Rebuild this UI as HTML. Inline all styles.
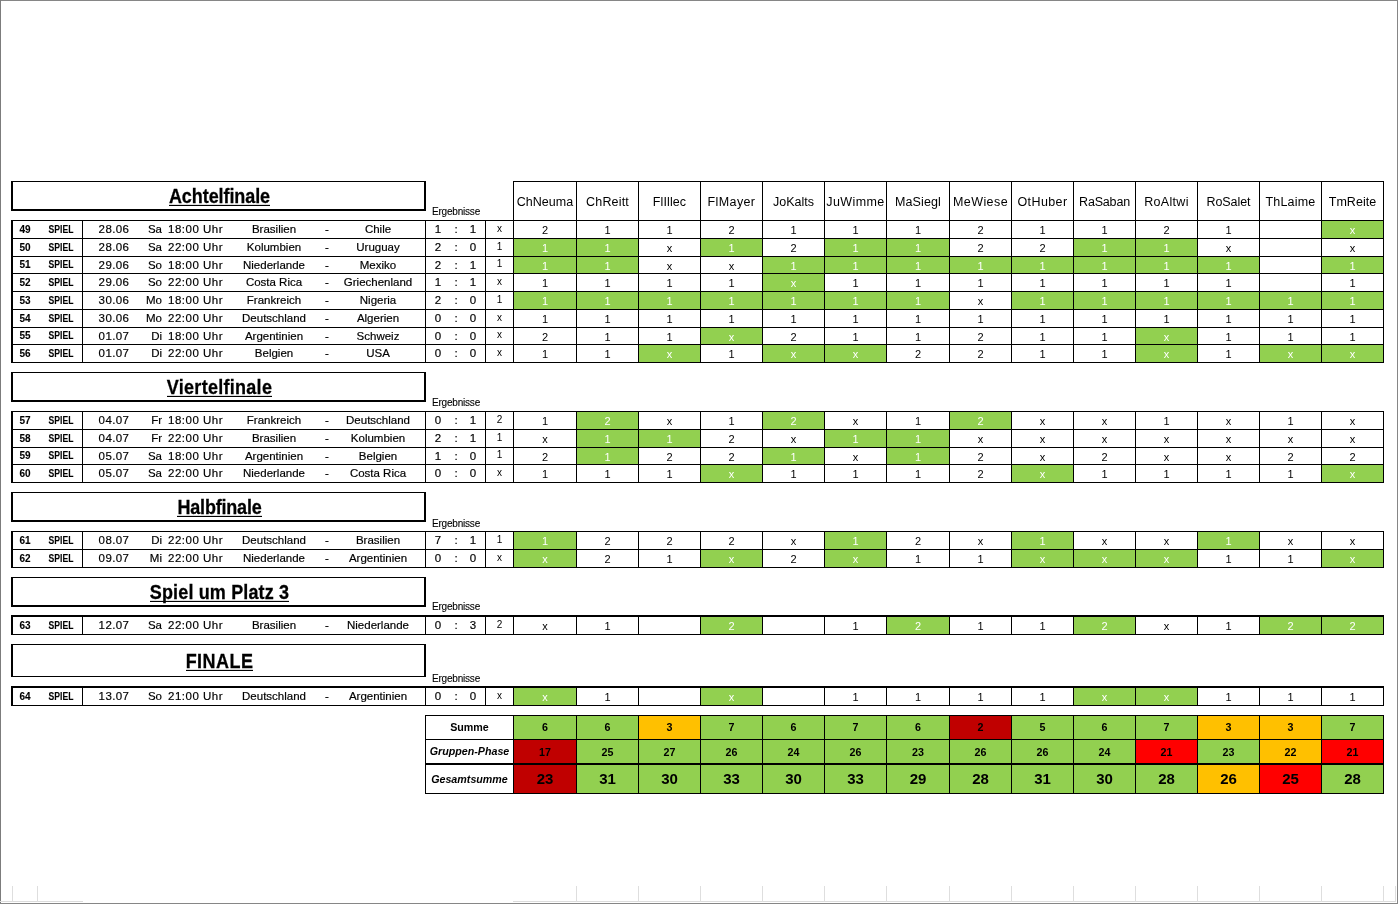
<!DOCTYPE html>
<html lang="de"><head><meta charset="utf-8"><title>Tippspiel</title>
<style>
html,body{margin:0;padding:0;background:#fff;}
body{width:1398px;height:904px;position:relative;overflow:hidden;font-family:"Liberation Sans",sans-serif;color:#000;}
.b{position:absolute;}
.t{position:absolute;text-align:center;white-space:nowrap;overflow:visible;}
.c{font-size:11.5px;-webkit-text-stroke:0.18px #000;}
.tm{letter-spacing:0.5px;}
.nb{font-size:10px;font-weight:bold;-webkit-text-stroke:0.1px #000;}
.tp{font-size:10px;}
.cv{font-size:11px;}
.w{color:#fff;}
.ph{font-size:12.5px;}
.er{font-size:10px;letter-spacing:-0.2px;-webkit-text-stroke:0.1px #000;}
.ti{font-size:18px;font-weight:bold;-webkit-text-stroke:0.25px #000;}
.ti span{border-bottom:1px solid #000;display:inline-block;line-height:16px;transform:scaleY(1.13);transform-origin:50% 100%;}
.sl{font-size:10.7px;font-weight:bold;}
.it{font-style:italic;}
.sv{font-weight:bold;}
</style></head><body>
<div class="t ph" style="left:514px;top:183px;width:62px;height:38px;line-height:38px;letter-spacing:0.06px;">ChNeuma</div>
<div class="t ph" style="left:577px;top:183px;width:61px;height:38px;line-height:38px;letter-spacing:0.17px;">ChReitt</div>
<div class="t ph" style="left:639px;top:183px;width:61px;height:38px;line-height:38px;letter-spacing:0.11px;">FlIllec</div>
<div class="t ph" style="left:701px;top:183px;width:61px;height:38px;line-height:38px;letter-spacing:0.38px;">FlMayer</div>
<div class="t ph" style="left:763px;top:183px;width:61px;height:38px;line-height:38px;letter-spacing:0.03px;">JoKalts</div>
<div class="t ph" style="left:825px;top:183px;width:61px;height:38px;line-height:38px;letter-spacing:0.41px;">JuWimme</div>
<div class="t ph" style="left:887px;top:183px;width:62px;height:38px;line-height:38px;letter-spacing:0.13px;">MaSiegl</div>
<div class="t ph" style="left:950px;top:183px;width:61px;height:38px;line-height:38px;letter-spacing:0.42px;">MeWiese</div>
<div class="t ph" style="left:1012px;top:183px;width:61px;height:38px;line-height:38px;letter-spacing:0.39px;">OtHuber</div>
<div class="t ph" style="left:1074px;top:183px;width:61px;height:38px;line-height:38px;letter-spacing:-0.18px;">RaSaban</div>
<div class="t ph" style="left:1136px;top:183px;width:61px;height:38px;line-height:38px;letter-spacing:0.32px;">RoAltwi</div>
<div class="t ph" style="left:1198px;top:183px;width:61px;height:38px;line-height:38px;letter-spacing:-0.07px;">RoSalet</div>
<div class="t ph" style="left:1260px;top:183px;width:61px;height:38px;line-height:38px;letter-spacing:0.19px;">ThLaime</div>
<div class="t ph" style="left:1322px;top:183px;width:61px;height:38px;line-height:38px;letter-spacing:0.04px;">TmReite</div>
<div class="b" style="left:513px;top:181px;width:871px;height:1px;background:#000;"></div>
<div class="b" style="left:513px;top:181px;width:1px;height:39px;background:#000;"></div>
<div class="b" style="left:576px;top:181px;width:1px;height:39px;background:#000;"></div>
<div class="b" style="left:638px;top:181px;width:1px;height:39px;background:#000;"></div>
<div class="b" style="left:700px;top:181px;width:1px;height:39px;background:#000;"></div>
<div class="b" style="left:762px;top:181px;width:1px;height:39px;background:#000;"></div>
<div class="b" style="left:824px;top:181px;width:1px;height:39px;background:#000;"></div>
<div class="b" style="left:886px;top:181px;width:1px;height:39px;background:#000;"></div>
<div class="b" style="left:949px;top:181px;width:1px;height:39px;background:#000;"></div>
<div class="b" style="left:1011px;top:181px;width:1px;height:39px;background:#000;"></div>
<div class="b" style="left:1073px;top:181px;width:1px;height:39px;background:#000;"></div>
<div class="b" style="left:1135px;top:181px;width:1px;height:39px;background:#000;"></div>
<div class="b" style="left:1197px;top:181px;width:1px;height:39px;background:#000;"></div>
<div class="b" style="left:1259px;top:181px;width:1px;height:39px;background:#000;"></div>
<div class="b" style="left:1321px;top:181px;width:1px;height:39px;background:#000;"></div>
<div class="b" style="left:1383px;top:181px;width:1px;height:39px;background:#000;"></div>
<div class="b" style="left:11px;top:181px;width:415px;height:1px;background:#000;"></div>
<div class="b" style="left:11px;top:209px;width:415px;height:2px;background:#000;"></div>
<div class="b" style="left:11px;top:181px;width:2px;height:29px;background:#000;"></div>
<div class="b" style="left:424px;top:181px;width:2px;height:29px;background:#000;"></div>
<div class="t ti" style="left:14px;top:184px;width:411px;height:27px;line-height:27px;"><span style="letter-spacing:-0.08px">Achtelfinale</span></div>
<div class="t er" style="left:432px;top:205.5px;width:60px;height:12px;line-height:12px;text-align:left;">Ergebnisse</div>
<div class="t nb" style="left:13px;top:221px;width:24px;height:17px;line-height:17px;">49</div>
<div class="t nb" style="left:43.5px;top:221px;width:34px;height:17px;line-height:17px;transform:scaleX(0.86);">SPIEL</div>
<div class="t c" style="left:88px;top:221px;width:52px;height:17px;line-height:17px;letter-spacing:0.4px;">28.06</div>
<div class="t c" style="left:140px;top:221px;width:22px;height:17px;line-height:17px;text-align:right;">Sa</div>
<div class="t c tm" style="left:168px;top:221px;width:60px;height:17px;line-height:17px;text-align:left;">18:00 Uhr</div>
<div class="t c" style="left:224px;top:221px;width:100px;height:17px;line-height:17px;">Brasilien</div>
<div class="t c" style="left:317px;top:221px;width:20px;height:17px;line-height:17px;">-</div>
<div class="t c" style="left:328px;top:221px;width:100px;height:17px;line-height:17px;">Chile</div>
<div class="t c" style="left:428px;top:221px;width:20px;height:17px;line-height:17px;">1</div>
<div class="t c" style="left:446px;top:221px;width:20px;height:17px;line-height:17px;">:</div>
<div class="t c" style="left:463px;top:221px;width:20px;height:17px;line-height:17px;">1</div>
<div class="t tp" style="left:486px;top:220px;width:27px;height:17px;line-height:17px;">x</div>
<div class="t cv" style="left:514px;top:222px;width:62px;height:17px;line-height:17px;">2</div>
<div class="t cv" style="left:577px;top:222px;width:61px;height:17px;line-height:17px;">1</div>
<div class="t cv" style="left:639px;top:222px;width:61px;height:17px;line-height:17px;">1</div>
<div class="t cv" style="left:701px;top:222px;width:61px;height:17px;line-height:17px;">2</div>
<div class="t cv" style="left:763px;top:222px;width:61px;height:17px;line-height:17px;">1</div>
<div class="t cv" style="left:825px;top:222px;width:61px;height:17px;line-height:17px;">1</div>
<div class="t cv" style="left:887px;top:222px;width:62px;height:17px;line-height:17px;">1</div>
<div class="t cv" style="left:950px;top:222px;width:61px;height:17px;line-height:17px;">2</div>
<div class="t cv" style="left:1012px;top:222px;width:61px;height:17px;line-height:17px;">1</div>
<div class="t cv" style="left:1074px;top:222px;width:61px;height:17px;line-height:17px;">1</div>
<div class="t cv" style="left:1136px;top:222px;width:61px;height:17px;line-height:17px;">2</div>
<div class="t cv" style="left:1198px;top:222px;width:61px;height:17px;line-height:17px;">1</div>
<div class="b" style="left:1322px;top:221px;width:61px;height:17px;background:#92d050;"></div>
<div class="t cv w" style="left:1322px;top:222px;width:61px;height:17px;line-height:17px;">x</div>
<div class="t nb" style="left:13px;top:239px;width:24px;height:17px;line-height:17px;">50</div>
<div class="t nb" style="left:43.5px;top:239px;width:34px;height:17px;line-height:17px;transform:scaleX(0.86);">SPIEL</div>
<div class="t c" style="left:88px;top:239px;width:52px;height:17px;line-height:17px;letter-spacing:0.4px;">28.06</div>
<div class="t c" style="left:140px;top:239px;width:22px;height:17px;line-height:17px;text-align:right;">Sa</div>
<div class="t c tm" style="left:168px;top:239px;width:60px;height:17px;line-height:17px;text-align:left;">22:00 Uhr</div>
<div class="t c" style="left:224px;top:239px;width:100px;height:17px;line-height:17px;">Kolumbien</div>
<div class="t c" style="left:317px;top:239px;width:20px;height:17px;line-height:17px;">-</div>
<div class="t c" style="left:328px;top:239px;width:100px;height:17px;line-height:17px;">Uruguay</div>
<div class="t c" style="left:428px;top:239px;width:20px;height:17px;line-height:17px;">2</div>
<div class="t c" style="left:446px;top:239px;width:20px;height:17px;line-height:17px;">:</div>
<div class="t c" style="left:463px;top:239px;width:20px;height:17px;line-height:17px;">0</div>
<div class="t tp" style="left:486px;top:238px;width:27px;height:17px;line-height:17px;">1</div>
<div class="b" style="left:514px;top:239px;width:62px;height:17px;background:#92d050;"></div>
<div class="t cv w" style="left:514px;top:240px;width:62px;height:17px;line-height:17px;">1</div>
<div class="b" style="left:577px;top:239px;width:61px;height:17px;background:#92d050;"></div>
<div class="t cv w" style="left:577px;top:240px;width:61px;height:17px;line-height:17px;">1</div>
<div class="t cv" style="left:639px;top:240px;width:61px;height:17px;line-height:17px;">x</div>
<div class="b" style="left:701px;top:239px;width:61px;height:17px;background:#92d050;"></div>
<div class="t cv w" style="left:701px;top:240px;width:61px;height:17px;line-height:17px;">1</div>
<div class="t cv" style="left:763px;top:240px;width:61px;height:17px;line-height:17px;">2</div>
<div class="b" style="left:825px;top:239px;width:61px;height:17px;background:#92d050;"></div>
<div class="t cv w" style="left:825px;top:240px;width:61px;height:17px;line-height:17px;">1</div>
<div class="b" style="left:887px;top:239px;width:62px;height:17px;background:#92d050;"></div>
<div class="t cv w" style="left:887px;top:240px;width:62px;height:17px;line-height:17px;">1</div>
<div class="t cv" style="left:950px;top:240px;width:61px;height:17px;line-height:17px;">2</div>
<div class="t cv" style="left:1012px;top:240px;width:61px;height:17px;line-height:17px;">2</div>
<div class="b" style="left:1074px;top:239px;width:61px;height:17px;background:#92d050;"></div>
<div class="t cv w" style="left:1074px;top:240px;width:61px;height:17px;line-height:17px;">1</div>
<div class="b" style="left:1136px;top:239px;width:61px;height:17px;background:#92d050;"></div>
<div class="t cv w" style="left:1136px;top:240px;width:61px;height:17px;line-height:17px;">1</div>
<div class="t cv" style="left:1198px;top:240px;width:61px;height:17px;line-height:17px;">x</div>
<div class="t cv" style="left:1322px;top:240px;width:61px;height:17px;line-height:17px;">x</div>
<div class="t nb" style="left:13px;top:257px;width:24px;height:16px;line-height:16px;">51</div>
<div class="t nb" style="left:43.5px;top:257px;width:34px;height:16px;line-height:16px;transform:scaleX(0.86);">SPIEL</div>
<div class="t c" style="left:88px;top:257px;width:52px;height:16px;line-height:16px;letter-spacing:0.4px;">29.06</div>
<div class="t c" style="left:140px;top:257px;width:22px;height:16px;line-height:16px;text-align:right;">So</div>
<div class="t c tm" style="left:168px;top:257px;width:60px;height:16px;line-height:16px;text-align:left;">18:00 Uhr</div>
<div class="t c" style="left:224px;top:257px;width:100px;height:16px;line-height:16px;">Niederlande</div>
<div class="t c" style="left:317px;top:257px;width:20px;height:16px;line-height:16px;">-</div>
<div class="t c" style="left:328px;top:257px;width:100px;height:16px;line-height:16px;">Mexiko</div>
<div class="t c" style="left:428px;top:257px;width:20px;height:16px;line-height:16px;">2</div>
<div class="t c" style="left:446px;top:257px;width:20px;height:16px;line-height:16px;">:</div>
<div class="t c" style="left:463px;top:257px;width:20px;height:16px;line-height:16px;">1</div>
<div class="t tp" style="left:486px;top:256px;width:27px;height:16px;line-height:16px;">1</div>
<div class="b" style="left:514px;top:257px;width:62px;height:16px;background:#92d050;"></div>
<div class="t cv w" style="left:514px;top:258px;width:62px;height:16px;line-height:16px;">1</div>
<div class="b" style="left:577px;top:257px;width:61px;height:16px;background:#92d050;"></div>
<div class="t cv w" style="left:577px;top:258px;width:61px;height:16px;line-height:16px;">1</div>
<div class="t cv" style="left:639px;top:258px;width:61px;height:16px;line-height:16px;">x</div>
<div class="t cv" style="left:701px;top:258px;width:61px;height:16px;line-height:16px;">x</div>
<div class="b" style="left:763px;top:257px;width:61px;height:16px;background:#92d050;"></div>
<div class="t cv w" style="left:763px;top:258px;width:61px;height:16px;line-height:16px;">1</div>
<div class="b" style="left:825px;top:257px;width:61px;height:16px;background:#92d050;"></div>
<div class="t cv w" style="left:825px;top:258px;width:61px;height:16px;line-height:16px;">1</div>
<div class="b" style="left:887px;top:257px;width:62px;height:16px;background:#92d050;"></div>
<div class="t cv w" style="left:887px;top:258px;width:62px;height:16px;line-height:16px;">1</div>
<div class="b" style="left:950px;top:257px;width:61px;height:16px;background:#92d050;"></div>
<div class="t cv w" style="left:950px;top:258px;width:61px;height:16px;line-height:16px;">1</div>
<div class="b" style="left:1012px;top:257px;width:61px;height:16px;background:#92d050;"></div>
<div class="t cv w" style="left:1012px;top:258px;width:61px;height:16px;line-height:16px;">1</div>
<div class="b" style="left:1074px;top:257px;width:61px;height:16px;background:#92d050;"></div>
<div class="t cv w" style="left:1074px;top:258px;width:61px;height:16px;line-height:16px;">1</div>
<div class="b" style="left:1136px;top:257px;width:61px;height:16px;background:#92d050;"></div>
<div class="t cv w" style="left:1136px;top:258px;width:61px;height:16px;line-height:16px;">1</div>
<div class="b" style="left:1198px;top:257px;width:61px;height:16px;background:#92d050;"></div>
<div class="t cv w" style="left:1198px;top:258px;width:61px;height:16px;line-height:16px;">1</div>
<div class="b" style="left:1322px;top:257px;width:61px;height:16px;background:#92d050;"></div>
<div class="t cv w" style="left:1322px;top:258px;width:61px;height:16px;line-height:16px;">1</div>
<div class="t nb" style="left:13px;top:274px;width:24px;height:17px;line-height:17px;">52</div>
<div class="t nb" style="left:43.5px;top:274px;width:34px;height:17px;line-height:17px;transform:scaleX(0.86);">SPIEL</div>
<div class="t c" style="left:88px;top:274px;width:52px;height:17px;line-height:17px;letter-spacing:0.4px;">29.06</div>
<div class="t c" style="left:140px;top:274px;width:22px;height:17px;line-height:17px;text-align:right;">So</div>
<div class="t c tm" style="left:168px;top:274px;width:60px;height:17px;line-height:17px;text-align:left;">22:00 Uhr</div>
<div class="t c" style="left:224px;top:274px;width:100px;height:17px;line-height:17px;">Costa Rica</div>
<div class="t c" style="left:317px;top:274px;width:20px;height:17px;line-height:17px;">-</div>
<div class="t c" style="left:328px;top:274px;width:100px;height:17px;line-height:17px;">Griechenland</div>
<div class="t c" style="left:428px;top:274px;width:20px;height:17px;line-height:17px;">1</div>
<div class="t c" style="left:446px;top:274px;width:20px;height:17px;line-height:17px;">:</div>
<div class="t c" style="left:463px;top:274px;width:20px;height:17px;line-height:17px;">1</div>
<div class="t tp" style="left:486px;top:273px;width:27px;height:17px;line-height:17px;">x</div>
<div class="t cv" style="left:514px;top:275px;width:62px;height:17px;line-height:17px;">1</div>
<div class="t cv" style="left:577px;top:275px;width:61px;height:17px;line-height:17px;">1</div>
<div class="t cv" style="left:639px;top:275px;width:61px;height:17px;line-height:17px;">1</div>
<div class="t cv" style="left:701px;top:275px;width:61px;height:17px;line-height:17px;">1</div>
<div class="b" style="left:763px;top:274px;width:61px;height:17px;background:#92d050;"></div>
<div class="t cv w" style="left:763px;top:275px;width:61px;height:17px;line-height:17px;">x</div>
<div class="t cv" style="left:825px;top:275px;width:61px;height:17px;line-height:17px;">1</div>
<div class="t cv" style="left:887px;top:275px;width:62px;height:17px;line-height:17px;">1</div>
<div class="t cv" style="left:950px;top:275px;width:61px;height:17px;line-height:17px;">1</div>
<div class="t cv" style="left:1012px;top:275px;width:61px;height:17px;line-height:17px;">1</div>
<div class="t cv" style="left:1074px;top:275px;width:61px;height:17px;line-height:17px;">1</div>
<div class="t cv" style="left:1136px;top:275px;width:61px;height:17px;line-height:17px;">1</div>
<div class="t cv" style="left:1198px;top:275px;width:61px;height:17px;line-height:17px;">1</div>
<div class="t cv" style="left:1322px;top:275px;width:61px;height:17px;line-height:17px;">1</div>
<div class="t nb" style="left:13px;top:292px;width:24px;height:17px;line-height:17px;">53</div>
<div class="t nb" style="left:43.5px;top:292px;width:34px;height:17px;line-height:17px;transform:scaleX(0.86);">SPIEL</div>
<div class="t c" style="left:88px;top:292px;width:52px;height:17px;line-height:17px;letter-spacing:0.4px;">30.06</div>
<div class="t c" style="left:140px;top:292px;width:22px;height:17px;line-height:17px;text-align:right;">Mo</div>
<div class="t c tm" style="left:168px;top:292px;width:60px;height:17px;line-height:17px;text-align:left;">18:00 Uhr</div>
<div class="t c" style="left:224px;top:292px;width:100px;height:17px;line-height:17px;">Frankreich</div>
<div class="t c" style="left:317px;top:292px;width:20px;height:17px;line-height:17px;">-</div>
<div class="t c" style="left:328px;top:292px;width:100px;height:17px;line-height:17px;">Nigeria</div>
<div class="t c" style="left:428px;top:292px;width:20px;height:17px;line-height:17px;">2</div>
<div class="t c" style="left:446px;top:292px;width:20px;height:17px;line-height:17px;">:</div>
<div class="t c" style="left:463px;top:292px;width:20px;height:17px;line-height:17px;">0</div>
<div class="t tp" style="left:486px;top:291px;width:27px;height:17px;line-height:17px;">1</div>
<div class="b" style="left:514px;top:292px;width:62px;height:17px;background:#92d050;"></div>
<div class="t cv w" style="left:514px;top:293px;width:62px;height:17px;line-height:17px;">1</div>
<div class="b" style="left:577px;top:292px;width:61px;height:17px;background:#92d050;"></div>
<div class="t cv w" style="left:577px;top:293px;width:61px;height:17px;line-height:17px;">1</div>
<div class="b" style="left:639px;top:292px;width:61px;height:17px;background:#92d050;"></div>
<div class="t cv w" style="left:639px;top:293px;width:61px;height:17px;line-height:17px;">1</div>
<div class="b" style="left:701px;top:292px;width:61px;height:17px;background:#92d050;"></div>
<div class="t cv w" style="left:701px;top:293px;width:61px;height:17px;line-height:17px;">1</div>
<div class="b" style="left:763px;top:292px;width:61px;height:17px;background:#92d050;"></div>
<div class="t cv w" style="left:763px;top:293px;width:61px;height:17px;line-height:17px;">1</div>
<div class="b" style="left:825px;top:292px;width:61px;height:17px;background:#92d050;"></div>
<div class="t cv w" style="left:825px;top:293px;width:61px;height:17px;line-height:17px;">1</div>
<div class="b" style="left:887px;top:292px;width:62px;height:17px;background:#92d050;"></div>
<div class="t cv w" style="left:887px;top:293px;width:62px;height:17px;line-height:17px;">1</div>
<div class="t cv" style="left:950px;top:293px;width:61px;height:17px;line-height:17px;">x</div>
<div class="b" style="left:1012px;top:292px;width:61px;height:17px;background:#92d050;"></div>
<div class="t cv w" style="left:1012px;top:293px;width:61px;height:17px;line-height:17px;">1</div>
<div class="b" style="left:1074px;top:292px;width:61px;height:17px;background:#92d050;"></div>
<div class="t cv w" style="left:1074px;top:293px;width:61px;height:17px;line-height:17px;">1</div>
<div class="b" style="left:1136px;top:292px;width:61px;height:17px;background:#92d050;"></div>
<div class="t cv w" style="left:1136px;top:293px;width:61px;height:17px;line-height:17px;">1</div>
<div class="b" style="left:1198px;top:292px;width:61px;height:17px;background:#92d050;"></div>
<div class="t cv w" style="left:1198px;top:293px;width:61px;height:17px;line-height:17px;">1</div>
<div class="b" style="left:1260px;top:292px;width:61px;height:17px;background:#92d050;"></div>
<div class="t cv w" style="left:1260px;top:293px;width:61px;height:17px;line-height:17px;">1</div>
<div class="b" style="left:1322px;top:292px;width:61px;height:17px;background:#92d050;"></div>
<div class="t cv w" style="left:1322px;top:293px;width:61px;height:17px;line-height:17px;">1</div>
<div class="t nb" style="left:13px;top:310px;width:24px;height:17px;line-height:17px;">54</div>
<div class="t nb" style="left:43.5px;top:310px;width:34px;height:17px;line-height:17px;transform:scaleX(0.86);">SPIEL</div>
<div class="t c" style="left:88px;top:310px;width:52px;height:17px;line-height:17px;letter-spacing:0.4px;">30.06</div>
<div class="t c" style="left:140px;top:310px;width:22px;height:17px;line-height:17px;text-align:right;">Mo</div>
<div class="t c tm" style="left:168px;top:310px;width:60px;height:17px;line-height:17px;text-align:left;">22:00 Uhr</div>
<div class="t c" style="left:224px;top:310px;width:100px;height:17px;line-height:17px;">Deutschland</div>
<div class="t c" style="left:317px;top:310px;width:20px;height:17px;line-height:17px;">-</div>
<div class="t c" style="left:328px;top:310px;width:100px;height:17px;line-height:17px;">Algerien</div>
<div class="t c" style="left:428px;top:310px;width:20px;height:17px;line-height:17px;">0</div>
<div class="t c" style="left:446px;top:310px;width:20px;height:17px;line-height:17px;">:</div>
<div class="t c" style="left:463px;top:310px;width:20px;height:17px;line-height:17px;">0</div>
<div class="t tp" style="left:486px;top:309px;width:27px;height:17px;line-height:17px;">x</div>
<div class="t cv" style="left:514px;top:311px;width:62px;height:17px;line-height:17px;">1</div>
<div class="t cv" style="left:577px;top:311px;width:61px;height:17px;line-height:17px;">1</div>
<div class="t cv" style="left:639px;top:311px;width:61px;height:17px;line-height:17px;">1</div>
<div class="t cv" style="left:701px;top:311px;width:61px;height:17px;line-height:17px;">1</div>
<div class="t cv" style="left:763px;top:311px;width:61px;height:17px;line-height:17px;">1</div>
<div class="t cv" style="left:825px;top:311px;width:61px;height:17px;line-height:17px;">1</div>
<div class="t cv" style="left:887px;top:311px;width:62px;height:17px;line-height:17px;">1</div>
<div class="t cv" style="left:950px;top:311px;width:61px;height:17px;line-height:17px;">1</div>
<div class="t cv" style="left:1012px;top:311px;width:61px;height:17px;line-height:17px;">1</div>
<div class="t cv" style="left:1074px;top:311px;width:61px;height:17px;line-height:17px;">1</div>
<div class="t cv" style="left:1136px;top:311px;width:61px;height:17px;line-height:17px;">1</div>
<div class="t cv" style="left:1198px;top:311px;width:61px;height:17px;line-height:17px;">1</div>
<div class="t cv" style="left:1260px;top:311px;width:61px;height:17px;line-height:17px;">1</div>
<div class="t cv" style="left:1322px;top:311px;width:61px;height:17px;line-height:17px;">1</div>
<div class="t nb" style="left:13px;top:328px;width:24px;height:16px;line-height:16px;">55</div>
<div class="t nb" style="left:43.5px;top:328px;width:34px;height:16px;line-height:16px;transform:scaleX(0.86);">SPIEL</div>
<div class="t c" style="left:88px;top:328px;width:52px;height:16px;line-height:16px;letter-spacing:0.4px;">01.07</div>
<div class="t c" style="left:140px;top:328px;width:22px;height:16px;line-height:16px;text-align:right;">Di</div>
<div class="t c tm" style="left:168px;top:328px;width:60px;height:16px;line-height:16px;text-align:left;">18:00 Uhr</div>
<div class="t c" style="left:224px;top:328px;width:100px;height:16px;line-height:16px;">Argentinien</div>
<div class="t c" style="left:317px;top:328px;width:20px;height:16px;line-height:16px;">-</div>
<div class="t c" style="left:328px;top:328px;width:100px;height:16px;line-height:16px;">Schweiz</div>
<div class="t c" style="left:428px;top:328px;width:20px;height:16px;line-height:16px;">0</div>
<div class="t c" style="left:446px;top:328px;width:20px;height:16px;line-height:16px;">:</div>
<div class="t c" style="left:463px;top:328px;width:20px;height:16px;line-height:16px;">0</div>
<div class="t tp" style="left:486px;top:327px;width:27px;height:16px;line-height:16px;">x</div>
<div class="t cv" style="left:514px;top:329px;width:62px;height:16px;line-height:16px;">2</div>
<div class="t cv" style="left:577px;top:329px;width:61px;height:16px;line-height:16px;">1</div>
<div class="t cv" style="left:639px;top:329px;width:61px;height:16px;line-height:16px;">1</div>
<div class="b" style="left:701px;top:328px;width:61px;height:16px;background:#92d050;"></div>
<div class="t cv w" style="left:701px;top:329px;width:61px;height:16px;line-height:16px;">x</div>
<div class="t cv" style="left:763px;top:329px;width:61px;height:16px;line-height:16px;">2</div>
<div class="t cv" style="left:825px;top:329px;width:61px;height:16px;line-height:16px;">1</div>
<div class="t cv" style="left:887px;top:329px;width:62px;height:16px;line-height:16px;">1</div>
<div class="t cv" style="left:950px;top:329px;width:61px;height:16px;line-height:16px;">2</div>
<div class="t cv" style="left:1012px;top:329px;width:61px;height:16px;line-height:16px;">1</div>
<div class="t cv" style="left:1074px;top:329px;width:61px;height:16px;line-height:16px;">1</div>
<div class="b" style="left:1136px;top:328px;width:61px;height:16px;background:#92d050;"></div>
<div class="t cv w" style="left:1136px;top:329px;width:61px;height:16px;line-height:16px;">x</div>
<div class="t cv" style="left:1198px;top:329px;width:61px;height:16px;line-height:16px;">1</div>
<div class="t cv" style="left:1260px;top:329px;width:61px;height:16px;line-height:16px;">1</div>
<div class="t cv" style="left:1322px;top:329px;width:61px;height:16px;line-height:16px;">1</div>
<div class="t nb" style="left:13px;top:345px;width:24px;height:17px;line-height:17px;">56</div>
<div class="t nb" style="left:43.5px;top:345px;width:34px;height:17px;line-height:17px;transform:scaleX(0.86);">SPIEL</div>
<div class="t c" style="left:88px;top:345px;width:52px;height:17px;line-height:17px;letter-spacing:0.4px;">01.07</div>
<div class="t c" style="left:140px;top:345px;width:22px;height:17px;line-height:17px;text-align:right;">Di</div>
<div class="t c tm" style="left:168px;top:345px;width:60px;height:17px;line-height:17px;text-align:left;">22:00 Uhr</div>
<div class="t c" style="left:224px;top:345px;width:100px;height:17px;line-height:17px;">Belgien</div>
<div class="t c" style="left:317px;top:345px;width:20px;height:17px;line-height:17px;">-</div>
<div class="t c" style="left:328px;top:345px;width:100px;height:17px;line-height:17px;">USA</div>
<div class="t c" style="left:428px;top:345px;width:20px;height:17px;line-height:17px;">0</div>
<div class="t c" style="left:446px;top:345px;width:20px;height:17px;line-height:17px;">:</div>
<div class="t c" style="left:463px;top:345px;width:20px;height:17px;line-height:17px;">0</div>
<div class="t tp" style="left:486px;top:344px;width:27px;height:17px;line-height:17px;">x</div>
<div class="t cv" style="left:514px;top:346px;width:62px;height:17px;line-height:17px;">1</div>
<div class="t cv" style="left:577px;top:346px;width:61px;height:17px;line-height:17px;">1</div>
<div class="b" style="left:639px;top:345px;width:61px;height:17px;background:#92d050;"></div>
<div class="t cv w" style="left:639px;top:346px;width:61px;height:17px;line-height:17px;">x</div>
<div class="t cv" style="left:701px;top:346px;width:61px;height:17px;line-height:17px;">1</div>
<div class="b" style="left:763px;top:345px;width:61px;height:17px;background:#92d050;"></div>
<div class="t cv w" style="left:763px;top:346px;width:61px;height:17px;line-height:17px;">x</div>
<div class="b" style="left:825px;top:345px;width:61px;height:17px;background:#92d050;"></div>
<div class="t cv w" style="left:825px;top:346px;width:61px;height:17px;line-height:17px;">x</div>
<div class="t cv" style="left:887px;top:346px;width:62px;height:17px;line-height:17px;">2</div>
<div class="t cv" style="left:950px;top:346px;width:61px;height:17px;line-height:17px;">2</div>
<div class="t cv" style="left:1012px;top:346px;width:61px;height:17px;line-height:17px;">1</div>
<div class="t cv" style="left:1074px;top:346px;width:61px;height:17px;line-height:17px;">1</div>
<div class="b" style="left:1136px;top:345px;width:61px;height:17px;background:#92d050;"></div>
<div class="t cv w" style="left:1136px;top:346px;width:61px;height:17px;line-height:17px;">x</div>
<div class="t cv" style="left:1198px;top:346px;width:61px;height:17px;line-height:17px;">1</div>
<div class="b" style="left:1260px;top:345px;width:61px;height:17px;background:#92d050;"></div>
<div class="t cv w" style="left:1260px;top:346px;width:61px;height:17px;line-height:17px;">x</div>
<div class="b" style="left:1322px;top:345px;width:61px;height:17px;background:#92d050;"></div>
<div class="t cv w" style="left:1322px;top:346px;width:61px;height:17px;line-height:17px;">x</div>
<div class="b" style="left:11px;top:220px;width:1373px;height:1px;background:#000;"></div>
<div class="b" style="left:11px;top:238px;width:1373px;height:1px;background:#000;"></div>
<div class="b" style="left:11px;top:256px;width:1373px;height:1px;background:#000;"></div>
<div class="b" style="left:11px;top:273px;width:1373px;height:1px;background:#000;"></div>
<div class="b" style="left:11px;top:291px;width:1373px;height:1px;background:#000;"></div>
<div class="b" style="left:11px;top:309px;width:1373px;height:1px;background:#000;"></div>
<div class="b" style="left:11px;top:327px;width:1373px;height:1px;background:#000;"></div>
<div class="b" style="left:11px;top:344px;width:1373px;height:1px;background:#000;"></div>
<div class="b" style="left:11px;top:362px;width:1373px;height:1px;background:#000;"></div>
<div class="b" style="left:11px;top:220px;width:2px;height:143px;background:#000;"></div>
<div class="b" style="left:82px;top:220px;width:1px;height:143px;background:#000;"></div>
<div class="b" style="left:425px;top:220px;width:1px;height:143px;background:#000;"></div>
<div class="b" style="left:485px;top:220px;width:1px;height:143px;background:#000;"></div>
<div class="b" style="left:513px;top:220px;width:1px;height:143px;background:#000;"></div>
<div class="b" style="left:576px;top:220px;width:1px;height:143px;background:#000;"></div>
<div class="b" style="left:638px;top:220px;width:1px;height:143px;background:#000;"></div>
<div class="b" style="left:700px;top:220px;width:1px;height:143px;background:#000;"></div>
<div class="b" style="left:762px;top:220px;width:1px;height:143px;background:#000;"></div>
<div class="b" style="left:824px;top:220px;width:1px;height:143px;background:#000;"></div>
<div class="b" style="left:886px;top:220px;width:1px;height:143px;background:#000;"></div>
<div class="b" style="left:949px;top:220px;width:1px;height:143px;background:#000;"></div>
<div class="b" style="left:1011px;top:220px;width:1px;height:143px;background:#000;"></div>
<div class="b" style="left:1073px;top:220px;width:1px;height:143px;background:#000;"></div>
<div class="b" style="left:1135px;top:220px;width:1px;height:143px;background:#000;"></div>
<div class="b" style="left:1197px;top:220px;width:1px;height:143px;background:#000;"></div>
<div class="b" style="left:1259px;top:220px;width:1px;height:143px;background:#000;"></div>
<div class="b" style="left:1321px;top:220px;width:1px;height:143px;background:#000;"></div>
<div class="b" style="left:1383px;top:220px;width:1px;height:143px;background:#000;"></div>
<div class="b" style="left:11px;top:372px;width:415px;height:1px;background:#000;"></div>
<div class="b" style="left:11px;top:400px;width:415px;height:2px;background:#000;"></div>
<div class="b" style="left:11px;top:372px;width:2px;height:29px;background:#000;"></div>
<div class="b" style="left:424px;top:372px;width:2px;height:29px;background:#000;"></div>
<div class="t ti" style="left:14px;top:375px;width:411px;height:27px;line-height:27px;"><span style="letter-spacing:0.28px">Viertelfinale</span></div>
<div class="t er" style="left:432px;top:396.5px;width:60px;height:12px;line-height:12px;text-align:left;">Ergebnisse</div>
<div class="t nb" style="left:13px;top:412px;width:24px;height:17px;line-height:17px;">57</div>
<div class="t nb" style="left:43.5px;top:412px;width:34px;height:17px;line-height:17px;transform:scaleX(0.86);">SPIEL</div>
<div class="t c" style="left:88px;top:412px;width:52px;height:17px;line-height:17px;letter-spacing:0.4px;">04.07</div>
<div class="t c" style="left:140px;top:412px;width:22px;height:17px;line-height:17px;text-align:right;">Fr</div>
<div class="t c tm" style="left:168px;top:412px;width:60px;height:17px;line-height:17px;text-align:left;">18:00 Uhr</div>
<div class="t c" style="left:224px;top:412px;width:100px;height:17px;line-height:17px;">Frankreich</div>
<div class="t c" style="left:317px;top:412px;width:20px;height:17px;line-height:17px;">-</div>
<div class="t c" style="left:328px;top:412px;width:100px;height:17px;line-height:17px;">Deutschland</div>
<div class="t c" style="left:428px;top:412px;width:20px;height:17px;line-height:17px;">0</div>
<div class="t c" style="left:446px;top:412px;width:20px;height:17px;line-height:17px;">:</div>
<div class="t c" style="left:463px;top:412px;width:20px;height:17px;line-height:17px;">1</div>
<div class="t tp" style="left:486px;top:411px;width:27px;height:17px;line-height:17px;">2</div>
<div class="t cv" style="left:514px;top:413px;width:62px;height:17px;line-height:17px;">1</div>
<div class="b" style="left:577px;top:412px;width:61px;height:17px;background:#92d050;"></div>
<div class="t cv w" style="left:577px;top:413px;width:61px;height:17px;line-height:17px;">2</div>
<div class="t cv" style="left:639px;top:413px;width:61px;height:17px;line-height:17px;">x</div>
<div class="t cv" style="left:701px;top:413px;width:61px;height:17px;line-height:17px;">1</div>
<div class="b" style="left:763px;top:412px;width:61px;height:17px;background:#92d050;"></div>
<div class="t cv w" style="left:763px;top:413px;width:61px;height:17px;line-height:17px;">2</div>
<div class="t cv" style="left:825px;top:413px;width:61px;height:17px;line-height:17px;">x</div>
<div class="t cv" style="left:887px;top:413px;width:62px;height:17px;line-height:17px;">1</div>
<div class="b" style="left:950px;top:412px;width:61px;height:17px;background:#92d050;"></div>
<div class="t cv w" style="left:950px;top:413px;width:61px;height:17px;line-height:17px;">2</div>
<div class="t cv" style="left:1012px;top:413px;width:61px;height:17px;line-height:17px;">x</div>
<div class="t cv" style="left:1074px;top:413px;width:61px;height:17px;line-height:17px;">x</div>
<div class="t cv" style="left:1136px;top:413px;width:61px;height:17px;line-height:17px;">1</div>
<div class="t cv" style="left:1198px;top:413px;width:61px;height:17px;line-height:17px;">x</div>
<div class="t cv" style="left:1260px;top:413px;width:61px;height:17px;line-height:17px;">1</div>
<div class="t cv" style="left:1322px;top:413px;width:61px;height:17px;line-height:17px;">x</div>
<div class="t nb" style="left:13px;top:430px;width:24px;height:17px;line-height:17px;">58</div>
<div class="t nb" style="left:43.5px;top:430px;width:34px;height:17px;line-height:17px;transform:scaleX(0.86);">SPIEL</div>
<div class="t c" style="left:88px;top:430px;width:52px;height:17px;line-height:17px;letter-spacing:0.4px;">04.07</div>
<div class="t c" style="left:140px;top:430px;width:22px;height:17px;line-height:17px;text-align:right;">Fr</div>
<div class="t c tm" style="left:168px;top:430px;width:60px;height:17px;line-height:17px;text-align:left;">22:00 Uhr</div>
<div class="t c" style="left:224px;top:430px;width:100px;height:17px;line-height:17px;">Brasilien</div>
<div class="t c" style="left:317px;top:430px;width:20px;height:17px;line-height:17px;">-</div>
<div class="t c" style="left:328px;top:430px;width:100px;height:17px;line-height:17px;">Kolumbien</div>
<div class="t c" style="left:428px;top:430px;width:20px;height:17px;line-height:17px;">2</div>
<div class="t c" style="left:446px;top:430px;width:20px;height:17px;line-height:17px;">:</div>
<div class="t c" style="left:463px;top:430px;width:20px;height:17px;line-height:17px;">1</div>
<div class="t tp" style="left:486px;top:429px;width:27px;height:17px;line-height:17px;">1</div>
<div class="t cv" style="left:514px;top:431px;width:62px;height:17px;line-height:17px;">x</div>
<div class="b" style="left:577px;top:430px;width:61px;height:17px;background:#92d050;"></div>
<div class="t cv w" style="left:577px;top:431px;width:61px;height:17px;line-height:17px;">1</div>
<div class="b" style="left:639px;top:430px;width:61px;height:17px;background:#92d050;"></div>
<div class="t cv w" style="left:639px;top:431px;width:61px;height:17px;line-height:17px;">1</div>
<div class="t cv" style="left:701px;top:431px;width:61px;height:17px;line-height:17px;">2</div>
<div class="t cv" style="left:763px;top:431px;width:61px;height:17px;line-height:17px;">x</div>
<div class="b" style="left:825px;top:430px;width:61px;height:17px;background:#92d050;"></div>
<div class="t cv w" style="left:825px;top:431px;width:61px;height:17px;line-height:17px;">1</div>
<div class="b" style="left:887px;top:430px;width:62px;height:17px;background:#92d050;"></div>
<div class="t cv w" style="left:887px;top:431px;width:62px;height:17px;line-height:17px;">1</div>
<div class="t cv" style="left:950px;top:431px;width:61px;height:17px;line-height:17px;">x</div>
<div class="t cv" style="left:1012px;top:431px;width:61px;height:17px;line-height:17px;">x</div>
<div class="t cv" style="left:1074px;top:431px;width:61px;height:17px;line-height:17px;">x</div>
<div class="t cv" style="left:1136px;top:431px;width:61px;height:17px;line-height:17px;">x</div>
<div class="t cv" style="left:1198px;top:431px;width:61px;height:17px;line-height:17px;">x</div>
<div class="t cv" style="left:1260px;top:431px;width:61px;height:17px;line-height:17px;">x</div>
<div class="t cv" style="left:1322px;top:431px;width:61px;height:17px;line-height:17px;">x</div>
<div class="t nb" style="left:13px;top:448px;width:24px;height:16px;line-height:16px;">59</div>
<div class="t nb" style="left:43.5px;top:448px;width:34px;height:16px;line-height:16px;transform:scaleX(0.86);">SPIEL</div>
<div class="t c" style="left:88px;top:448px;width:52px;height:16px;line-height:16px;letter-spacing:0.4px;">05.07</div>
<div class="t c" style="left:140px;top:448px;width:22px;height:16px;line-height:16px;text-align:right;">Sa</div>
<div class="t c tm" style="left:168px;top:448px;width:60px;height:16px;line-height:16px;text-align:left;">18:00 Uhr</div>
<div class="t c" style="left:224px;top:448px;width:100px;height:16px;line-height:16px;">Argentinien</div>
<div class="t c" style="left:317px;top:448px;width:20px;height:16px;line-height:16px;">-</div>
<div class="t c" style="left:328px;top:448px;width:100px;height:16px;line-height:16px;">Belgien</div>
<div class="t c" style="left:428px;top:448px;width:20px;height:16px;line-height:16px;">1</div>
<div class="t c" style="left:446px;top:448px;width:20px;height:16px;line-height:16px;">:</div>
<div class="t c" style="left:463px;top:448px;width:20px;height:16px;line-height:16px;">0</div>
<div class="t tp" style="left:486px;top:447px;width:27px;height:16px;line-height:16px;">1</div>
<div class="t cv" style="left:514px;top:449px;width:62px;height:16px;line-height:16px;">2</div>
<div class="b" style="left:577px;top:448px;width:61px;height:16px;background:#92d050;"></div>
<div class="t cv w" style="left:577px;top:449px;width:61px;height:16px;line-height:16px;">1</div>
<div class="t cv" style="left:639px;top:449px;width:61px;height:16px;line-height:16px;">2</div>
<div class="t cv" style="left:701px;top:449px;width:61px;height:16px;line-height:16px;">2</div>
<div class="b" style="left:763px;top:448px;width:61px;height:16px;background:#92d050;"></div>
<div class="t cv w" style="left:763px;top:449px;width:61px;height:16px;line-height:16px;">1</div>
<div class="t cv" style="left:825px;top:449px;width:61px;height:16px;line-height:16px;">x</div>
<div class="b" style="left:887px;top:448px;width:62px;height:16px;background:#92d050;"></div>
<div class="t cv w" style="left:887px;top:449px;width:62px;height:16px;line-height:16px;">1</div>
<div class="t cv" style="left:950px;top:449px;width:61px;height:16px;line-height:16px;">2</div>
<div class="t cv" style="left:1012px;top:449px;width:61px;height:16px;line-height:16px;">x</div>
<div class="t cv" style="left:1074px;top:449px;width:61px;height:16px;line-height:16px;">2</div>
<div class="t cv" style="left:1136px;top:449px;width:61px;height:16px;line-height:16px;">x</div>
<div class="t cv" style="left:1198px;top:449px;width:61px;height:16px;line-height:16px;">x</div>
<div class="t cv" style="left:1260px;top:449px;width:61px;height:16px;line-height:16px;">2</div>
<div class="t cv" style="left:1322px;top:449px;width:61px;height:16px;line-height:16px;">2</div>
<div class="t nb" style="left:13px;top:465px;width:24px;height:17px;line-height:17px;">60</div>
<div class="t nb" style="left:43.5px;top:465px;width:34px;height:17px;line-height:17px;transform:scaleX(0.86);">SPIEL</div>
<div class="t c" style="left:88px;top:465px;width:52px;height:17px;line-height:17px;letter-spacing:0.4px;">05.07</div>
<div class="t c" style="left:140px;top:465px;width:22px;height:17px;line-height:17px;text-align:right;">Sa</div>
<div class="t c tm" style="left:168px;top:465px;width:60px;height:17px;line-height:17px;text-align:left;">22:00 Uhr</div>
<div class="t c" style="left:224px;top:465px;width:100px;height:17px;line-height:17px;">Niederlande</div>
<div class="t c" style="left:317px;top:465px;width:20px;height:17px;line-height:17px;">-</div>
<div class="t c" style="left:328px;top:465px;width:100px;height:17px;line-height:17px;">Costa Rica</div>
<div class="t c" style="left:428px;top:465px;width:20px;height:17px;line-height:17px;">0</div>
<div class="t c" style="left:446px;top:465px;width:20px;height:17px;line-height:17px;">:</div>
<div class="t c" style="left:463px;top:465px;width:20px;height:17px;line-height:17px;">0</div>
<div class="t tp" style="left:486px;top:464px;width:27px;height:17px;line-height:17px;">x</div>
<div class="t cv" style="left:514px;top:466px;width:62px;height:17px;line-height:17px;">1</div>
<div class="t cv" style="left:577px;top:466px;width:61px;height:17px;line-height:17px;">1</div>
<div class="t cv" style="left:639px;top:466px;width:61px;height:17px;line-height:17px;">1</div>
<div class="b" style="left:701px;top:465px;width:61px;height:17px;background:#92d050;"></div>
<div class="t cv w" style="left:701px;top:466px;width:61px;height:17px;line-height:17px;">x</div>
<div class="t cv" style="left:763px;top:466px;width:61px;height:17px;line-height:17px;">1</div>
<div class="t cv" style="left:825px;top:466px;width:61px;height:17px;line-height:17px;">1</div>
<div class="t cv" style="left:887px;top:466px;width:62px;height:17px;line-height:17px;">1</div>
<div class="t cv" style="left:950px;top:466px;width:61px;height:17px;line-height:17px;">2</div>
<div class="b" style="left:1012px;top:465px;width:61px;height:17px;background:#92d050;"></div>
<div class="t cv w" style="left:1012px;top:466px;width:61px;height:17px;line-height:17px;">x</div>
<div class="t cv" style="left:1074px;top:466px;width:61px;height:17px;line-height:17px;">1</div>
<div class="t cv" style="left:1136px;top:466px;width:61px;height:17px;line-height:17px;">1</div>
<div class="t cv" style="left:1198px;top:466px;width:61px;height:17px;line-height:17px;">1</div>
<div class="t cv" style="left:1260px;top:466px;width:61px;height:17px;line-height:17px;">1</div>
<div class="b" style="left:1322px;top:465px;width:61px;height:17px;background:#92d050;"></div>
<div class="t cv w" style="left:1322px;top:466px;width:61px;height:17px;line-height:17px;">x</div>
<div class="b" style="left:11px;top:411px;width:1373px;height:1px;background:#000;"></div>
<div class="b" style="left:11px;top:429px;width:1373px;height:1px;background:#000;"></div>
<div class="b" style="left:11px;top:447px;width:1373px;height:1px;background:#000;"></div>
<div class="b" style="left:11px;top:464px;width:1373px;height:1px;background:#000;"></div>
<div class="b" style="left:11px;top:482px;width:1373px;height:1px;background:#000;"></div>
<div class="b" style="left:11px;top:411px;width:2px;height:72px;background:#000;"></div>
<div class="b" style="left:82px;top:411px;width:1px;height:72px;background:#000;"></div>
<div class="b" style="left:425px;top:411px;width:1px;height:72px;background:#000;"></div>
<div class="b" style="left:485px;top:411px;width:1px;height:72px;background:#000;"></div>
<div class="b" style="left:513px;top:411px;width:1px;height:72px;background:#000;"></div>
<div class="b" style="left:576px;top:411px;width:1px;height:72px;background:#000;"></div>
<div class="b" style="left:638px;top:411px;width:1px;height:72px;background:#000;"></div>
<div class="b" style="left:700px;top:411px;width:1px;height:72px;background:#000;"></div>
<div class="b" style="left:762px;top:411px;width:1px;height:72px;background:#000;"></div>
<div class="b" style="left:824px;top:411px;width:1px;height:72px;background:#000;"></div>
<div class="b" style="left:886px;top:411px;width:1px;height:72px;background:#000;"></div>
<div class="b" style="left:949px;top:411px;width:1px;height:72px;background:#000;"></div>
<div class="b" style="left:1011px;top:411px;width:1px;height:72px;background:#000;"></div>
<div class="b" style="left:1073px;top:411px;width:1px;height:72px;background:#000;"></div>
<div class="b" style="left:1135px;top:411px;width:1px;height:72px;background:#000;"></div>
<div class="b" style="left:1197px;top:411px;width:1px;height:72px;background:#000;"></div>
<div class="b" style="left:1259px;top:411px;width:1px;height:72px;background:#000;"></div>
<div class="b" style="left:1321px;top:411px;width:1px;height:72px;background:#000;"></div>
<div class="b" style="left:1383px;top:411px;width:1px;height:72px;background:#000;"></div>
<div class="b" style="left:11px;top:492px;width:415px;height:1px;background:#000;"></div>
<div class="b" style="left:11px;top:520px;width:415px;height:2px;background:#000;"></div>
<div class="b" style="left:11px;top:492px;width:2px;height:29px;background:#000;"></div>
<div class="b" style="left:424px;top:492px;width:2px;height:29px;background:#000;"></div>
<div class="t ti" style="left:14px;top:495px;width:411px;height:27px;line-height:27px;"><span style="letter-spacing:-0.2px">Halbfinale</span></div>
<div class="t er" style="left:432px;top:517.5px;width:60px;height:12px;line-height:12px;text-align:left;">Ergebnisse</div>
<div class="t nb" style="left:13px;top:532px;width:24px;height:17px;line-height:17px;">61</div>
<div class="t nb" style="left:43.5px;top:532px;width:34px;height:17px;line-height:17px;transform:scaleX(0.86);">SPIEL</div>
<div class="t c" style="left:88px;top:532px;width:52px;height:17px;line-height:17px;letter-spacing:0.4px;">08.07</div>
<div class="t c" style="left:140px;top:532px;width:22px;height:17px;line-height:17px;text-align:right;">Di</div>
<div class="t c tm" style="left:168px;top:532px;width:60px;height:17px;line-height:17px;text-align:left;">22:00 Uhr</div>
<div class="t c" style="left:224px;top:532px;width:100px;height:17px;line-height:17px;">Deutschland</div>
<div class="t c" style="left:317px;top:532px;width:20px;height:17px;line-height:17px;">-</div>
<div class="t c" style="left:328px;top:532px;width:100px;height:17px;line-height:17px;">Brasilien</div>
<div class="t c" style="left:428px;top:532px;width:20px;height:17px;line-height:17px;">7</div>
<div class="t c" style="left:446px;top:532px;width:20px;height:17px;line-height:17px;">:</div>
<div class="t c" style="left:463px;top:532px;width:20px;height:17px;line-height:17px;">1</div>
<div class="t tp" style="left:486px;top:531px;width:27px;height:17px;line-height:17px;">1</div>
<div class="b" style="left:514px;top:532px;width:62px;height:17px;background:#92d050;"></div>
<div class="t cv w" style="left:514px;top:533px;width:62px;height:17px;line-height:17px;">1</div>
<div class="t cv" style="left:577px;top:533px;width:61px;height:17px;line-height:17px;">2</div>
<div class="t cv" style="left:639px;top:533px;width:61px;height:17px;line-height:17px;">2</div>
<div class="t cv" style="left:701px;top:533px;width:61px;height:17px;line-height:17px;">2</div>
<div class="t cv" style="left:763px;top:533px;width:61px;height:17px;line-height:17px;">x</div>
<div class="b" style="left:825px;top:532px;width:61px;height:17px;background:#92d050;"></div>
<div class="t cv w" style="left:825px;top:533px;width:61px;height:17px;line-height:17px;">1</div>
<div class="t cv" style="left:887px;top:533px;width:62px;height:17px;line-height:17px;">2</div>
<div class="t cv" style="left:950px;top:533px;width:61px;height:17px;line-height:17px;">x</div>
<div class="b" style="left:1012px;top:532px;width:61px;height:17px;background:#92d050;"></div>
<div class="t cv w" style="left:1012px;top:533px;width:61px;height:17px;line-height:17px;">1</div>
<div class="t cv" style="left:1074px;top:533px;width:61px;height:17px;line-height:17px;">x</div>
<div class="t cv" style="left:1136px;top:533px;width:61px;height:17px;line-height:17px;">x</div>
<div class="b" style="left:1198px;top:532px;width:61px;height:17px;background:#92d050;"></div>
<div class="t cv w" style="left:1198px;top:533px;width:61px;height:17px;line-height:17px;">1</div>
<div class="t cv" style="left:1260px;top:533px;width:61px;height:17px;line-height:17px;">x</div>
<div class="t cv" style="left:1322px;top:533px;width:61px;height:17px;line-height:17px;">x</div>
<div class="t nb" style="left:13px;top:550px;width:24px;height:17px;line-height:17px;">62</div>
<div class="t nb" style="left:43.5px;top:550px;width:34px;height:17px;line-height:17px;transform:scaleX(0.86);">SPIEL</div>
<div class="t c" style="left:88px;top:550px;width:52px;height:17px;line-height:17px;letter-spacing:0.4px;">09.07</div>
<div class="t c" style="left:140px;top:550px;width:22px;height:17px;line-height:17px;text-align:right;">Mi</div>
<div class="t c tm" style="left:168px;top:550px;width:60px;height:17px;line-height:17px;text-align:left;">22:00 Uhr</div>
<div class="t c" style="left:224px;top:550px;width:100px;height:17px;line-height:17px;">Niederlande</div>
<div class="t c" style="left:317px;top:550px;width:20px;height:17px;line-height:17px;">-</div>
<div class="t c" style="left:328px;top:550px;width:100px;height:17px;line-height:17px;">Argentinien</div>
<div class="t c" style="left:428px;top:550px;width:20px;height:17px;line-height:17px;">0</div>
<div class="t c" style="left:446px;top:550px;width:20px;height:17px;line-height:17px;">:</div>
<div class="t c" style="left:463px;top:550px;width:20px;height:17px;line-height:17px;">0</div>
<div class="t tp" style="left:486px;top:549px;width:27px;height:17px;line-height:17px;">x</div>
<div class="b" style="left:514px;top:550px;width:62px;height:17px;background:#92d050;"></div>
<div class="t cv w" style="left:514px;top:551px;width:62px;height:17px;line-height:17px;">x</div>
<div class="t cv" style="left:577px;top:551px;width:61px;height:17px;line-height:17px;">2</div>
<div class="t cv" style="left:639px;top:551px;width:61px;height:17px;line-height:17px;">1</div>
<div class="b" style="left:701px;top:550px;width:61px;height:17px;background:#92d050;"></div>
<div class="t cv w" style="left:701px;top:551px;width:61px;height:17px;line-height:17px;">x</div>
<div class="t cv" style="left:763px;top:551px;width:61px;height:17px;line-height:17px;">2</div>
<div class="b" style="left:825px;top:550px;width:61px;height:17px;background:#92d050;"></div>
<div class="t cv w" style="left:825px;top:551px;width:61px;height:17px;line-height:17px;">x</div>
<div class="t cv" style="left:887px;top:551px;width:62px;height:17px;line-height:17px;">1</div>
<div class="t cv" style="left:950px;top:551px;width:61px;height:17px;line-height:17px;">1</div>
<div class="b" style="left:1012px;top:550px;width:61px;height:17px;background:#92d050;"></div>
<div class="t cv w" style="left:1012px;top:551px;width:61px;height:17px;line-height:17px;">x</div>
<div class="b" style="left:1074px;top:550px;width:61px;height:17px;background:#92d050;"></div>
<div class="t cv w" style="left:1074px;top:551px;width:61px;height:17px;line-height:17px;">x</div>
<div class="b" style="left:1136px;top:550px;width:61px;height:17px;background:#92d050;"></div>
<div class="t cv w" style="left:1136px;top:551px;width:61px;height:17px;line-height:17px;">x</div>
<div class="t cv" style="left:1198px;top:551px;width:61px;height:17px;line-height:17px;">1</div>
<div class="t cv" style="left:1260px;top:551px;width:61px;height:17px;line-height:17px;">1</div>
<div class="b" style="left:1322px;top:550px;width:61px;height:17px;background:#92d050;"></div>
<div class="t cv w" style="left:1322px;top:551px;width:61px;height:17px;line-height:17px;">x</div>
<div class="b" style="left:11px;top:531px;width:1373px;height:1px;background:#000;"></div>
<div class="b" style="left:11px;top:549px;width:1373px;height:1px;background:#000;"></div>
<div class="b" style="left:11px;top:567px;width:1373px;height:1px;background:#000;"></div>
<div class="b" style="left:11px;top:531px;width:2px;height:37px;background:#000;"></div>
<div class="b" style="left:82px;top:531px;width:1px;height:37px;background:#000;"></div>
<div class="b" style="left:425px;top:531px;width:1px;height:37px;background:#000;"></div>
<div class="b" style="left:485px;top:531px;width:1px;height:37px;background:#000;"></div>
<div class="b" style="left:513px;top:531px;width:1px;height:37px;background:#000;"></div>
<div class="b" style="left:576px;top:531px;width:1px;height:37px;background:#000;"></div>
<div class="b" style="left:638px;top:531px;width:1px;height:37px;background:#000;"></div>
<div class="b" style="left:700px;top:531px;width:1px;height:37px;background:#000;"></div>
<div class="b" style="left:762px;top:531px;width:1px;height:37px;background:#000;"></div>
<div class="b" style="left:824px;top:531px;width:1px;height:37px;background:#000;"></div>
<div class="b" style="left:886px;top:531px;width:1px;height:37px;background:#000;"></div>
<div class="b" style="left:949px;top:531px;width:1px;height:37px;background:#000;"></div>
<div class="b" style="left:1011px;top:531px;width:1px;height:37px;background:#000;"></div>
<div class="b" style="left:1073px;top:531px;width:1px;height:37px;background:#000;"></div>
<div class="b" style="left:1135px;top:531px;width:1px;height:37px;background:#000;"></div>
<div class="b" style="left:1197px;top:531px;width:1px;height:37px;background:#000;"></div>
<div class="b" style="left:1259px;top:531px;width:1px;height:37px;background:#000;"></div>
<div class="b" style="left:1321px;top:531px;width:1px;height:37px;background:#000;"></div>
<div class="b" style="left:1383px;top:531px;width:1px;height:37px;background:#000;"></div>
<div class="b" style="left:11px;top:577px;width:415px;height:1px;background:#000;"></div>
<div class="b" style="left:11px;top:605px;width:415px;height:2px;background:#000;"></div>
<div class="b" style="left:11px;top:577px;width:2px;height:29px;background:#000;"></div>
<div class="b" style="left:424px;top:577px;width:2px;height:29px;background:#000;"></div>
<div class="t ti" style="left:14px;top:580px;width:411px;height:27px;line-height:27px;"><span style="letter-spacing:0.15px">Spiel um Platz 3</span></div>
<div class="t er" style="left:432px;top:600.5px;width:60px;height:12px;line-height:12px;text-align:left;">Ergebnisse</div>
<div class="t nb" style="left:13px;top:617px;width:24px;height:17px;line-height:17px;">63</div>
<div class="t nb" style="left:43.5px;top:617px;width:34px;height:17px;line-height:17px;transform:scaleX(0.86);">SPIEL</div>
<div class="t c" style="left:88px;top:617px;width:52px;height:17px;line-height:17px;letter-spacing:0.4px;">12.07</div>
<div class="t c" style="left:140px;top:617px;width:22px;height:17px;line-height:17px;text-align:right;">Sa</div>
<div class="t c tm" style="left:168px;top:617px;width:60px;height:17px;line-height:17px;text-align:left;">22:00 Uhr</div>
<div class="t c" style="left:224px;top:617px;width:100px;height:17px;line-height:17px;">Brasilien</div>
<div class="t c" style="left:317px;top:617px;width:20px;height:17px;line-height:17px;">-</div>
<div class="t c" style="left:328px;top:617px;width:100px;height:17px;line-height:17px;">Niederlande</div>
<div class="t c" style="left:428px;top:617px;width:20px;height:17px;line-height:17px;">0</div>
<div class="t c" style="left:446px;top:617px;width:20px;height:17px;line-height:17px;">:</div>
<div class="t c" style="left:463px;top:617px;width:20px;height:17px;line-height:17px;">3</div>
<div class="t tp" style="left:486px;top:616px;width:27px;height:17px;line-height:17px;">2</div>
<div class="t cv" style="left:514px;top:618px;width:62px;height:17px;line-height:17px;">x</div>
<div class="t cv" style="left:577px;top:618px;width:61px;height:17px;line-height:17px;">1</div>
<div class="b" style="left:701px;top:617px;width:61px;height:17px;background:#92d050;"></div>
<div class="t cv w" style="left:701px;top:618px;width:61px;height:17px;line-height:17px;">2</div>
<div class="t cv" style="left:825px;top:618px;width:61px;height:17px;line-height:17px;">1</div>
<div class="b" style="left:887px;top:617px;width:62px;height:17px;background:#92d050;"></div>
<div class="t cv w" style="left:887px;top:618px;width:62px;height:17px;line-height:17px;">2</div>
<div class="t cv" style="left:950px;top:618px;width:61px;height:17px;line-height:17px;">1</div>
<div class="t cv" style="left:1012px;top:618px;width:61px;height:17px;line-height:17px;">1</div>
<div class="b" style="left:1074px;top:617px;width:61px;height:17px;background:#92d050;"></div>
<div class="t cv w" style="left:1074px;top:618px;width:61px;height:17px;line-height:17px;">2</div>
<div class="t cv" style="left:1136px;top:618px;width:61px;height:17px;line-height:17px;">x</div>
<div class="t cv" style="left:1198px;top:618px;width:61px;height:17px;line-height:17px;">1</div>
<div class="b" style="left:1260px;top:617px;width:61px;height:17px;background:#92d050;"></div>
<div class="t cv w" style="left:1260px;top:618px;width:61px;height:17px;line-height:17px;">2</div>
<div class="b" style="left:1322px;top:617px;width:61px;height:17px;background:#92d050;"></div>
<div class="t cv w" style="left:1322px;top:618px;width:61px;height:17px;line-height:17px;">2</div>
<div class="b" style="left:11px;top:615px;width:1373px;height:2px;background:#000;"></div>
<div class="b" style="left:11px;top:634px;width:1373px;height:1px;background:#000;"></div>
<div class="b" style="left:11px;top:615px;width:2px;height:20px;background:#000;"></div>
<div class="b" style="left:82px;top:615px;width:1px;height:20px;background:#000;"></div>
<div class="b" style="left:425px;top:615px;width:1px;height:20px;background:#000;"></div>
<div class="b" style="left:485px;top:615px;width:1px;height:20px;background:#000;"></div>
<div class="b" style="left:513px;top:615px;width:1px;height:20px;background:#000;"></div>
<div class="b" style="left:576px;top:615px;width:1px;height:20px;background:#000;"></div>
<div class="b" style="left:638px;top:615px;width:1px;height:20px;background:#000;"></div>
<div class="b" style="left:700px;top:615px;width:1px;height:20px;background:#000;"></div>
<div class="b" style="left:762px;top:615px;width:1px;height:20px;background:#000;"></div>
<div class="b" style="left:824px;top:615px;width:1px;height:20px;background:#000;"></div>
<div class="b" style="left:886px;top:615px;width:1px;height:20px;background:#000;"></div>
<div class="b" style="left:949px;top:615px;width:1px;height:20px;background:#000;"></div>
<div class="b" style="left:1011px;top:615px;width:1px;height:20px;background:#000;"></div>
<div class="b" style="left:1073px;top:615px;width:1px;height:20px;background:#000;"></div>
<div class="b" style="left:1135px;top:615px;width:1px;height:20px;background:#000;"></div>
<div class="b" style="left:1197px;top:615px;width:1px;height:20px;background:#000;"></div>
<div class="b" style="left:1259px;top:615px;width:1px;height:20px;background:#000;"></div>
<div class="b" style="left:1321px;top:615px;width:1px;height:20px;background:#000;"></div>
<div class="b" style="left:1383px;top:615px;width:1px;height:20px;background:#000;"></div>
<div class="b" style="left:11px;top:644px;width:415px;height:1px;background:#000;"></div>
<div class="b" style="left:11px;top:676px;width:415px;height:1px;background:#000;"></div>
<div class="b" style="left:11px;top:644px;width:2px;height:33px;background:#000;"></div>
<div class="b" style="left:424px;top:644px;width:2px;height:33px;background:#000;"></div>
<div class="t ti" style="left:14px;top:647px;width:411px;height:31px;line-height:31px;"><span style="letter-spacing:0.45px">FINALE</span></div>
<div class="t er" style="left:432px;top:672.5px;width:60px;height:12px;line-height:12px;text-align:left;">Ergebnisse</div>
<div class="t nb" style="left:13px;top:688px;width:24px;height:17px;line-height:17px;">64</div>
<div class="t nb" style="left:43.5px;top:688px;width:34px;height:17px;line-height:17px;transform:scaleX(0.86);">SPIEL</div>
<div class="t c" style="left:88px;top:688px;width:52px;height:17px;line-height:17px;letter-spacing:0.4px;">13.07</div>
<div class="t c" style="left:140px;top:688px;width:22px;height:17px;line-height:17px;text-align:right;">So</div>
<div class="t c tm" style="left:168px;top:688px;width:60px;height:17px;line-height:17px;text-align:left;">21:00 Uhr</div>
<div class="t c" style="left:224px;top:688px;width:100px;height:17px;line-height:17px;">Deutschland</div>
<div class="t c" style="left:317px;top:688px;width:20px;height:17px;line-height:17px;">-</div>
<div class="t c" style="left:328px;top:688px;width:100px;height:17px;line-height:17px;">Argentinien</div>
<div class="t c" style="left:428px;top:688px;width:20px;height:17px;line-height:17px;">0</div>
<div class="t c" style="left:446px;top:688px;width:20px;height:17px;line-height:17px;">:</div>
<div class="t c" style="left:463px;top:688px;width:20px;height:17px;line-height:17px;">0</div>
<div class="t tp" style="left:486px;top:687px;width:27px;height:17px;line-height:17px;">x</div>
<div class="b" style="left:514px;top:688px;width:62px;height:17px;background:#92d050;"></div>
<div class="t cv w" style="left:514px;top:689px;width:62px;height:17px;line-height:17px;">x</div>
<div class="t cv" style="left:577px;top:689px;width:61px;height:17px;line-height:17px;">1</div>
<div class="b" style="left:701px;top:688px;width:61px;height:17px;background:#92d050;"></div>
<div class="t cv w" style="left:701px;top:689px;width:61px;height:17px;line-height:17px;">x</div>
<div class="t cv" style="left:825px;top:689px;width:61px;height:17px;line-height:17px;">1</div>
<div class="t cv" style="left:887px;top:689px;width:62px;height:17px;line-height:17px;">1</div>
<div class="t cv" style="left:950px;top:689px;width:61px;height:17px;line-height:17px;">1</div>
<div class="t cv" style="left:1012px;top:689px;width:61px;height:17px;line-height:17px;">1</div>
<div class="b" style="left:1074px;top:688px;width:61px;height:17px;background:#92d050;"></div>
<div class="t cv w" style="left:1074px;top:689px;width:61px;height:17px;line-height:17px;">x</div>
<div class="b" style="left:1136px;top:688px;width:61px;height:17px;background:#92d050;"></div>
<div class="t cv w" style="left:1136px;top:689px;width:61px;height:17px;line-height:17px;">x</div>
<div class="t cv" style="left:1198px;top:689px;width:61px;height:17px;line-height:17px;">1</div>
<div class="t cv" style="left:1260px;top:689px;width:61px;height:17px;line-height:17px;">1</div>
<div class="t cv" style="left:1322px;top:689px;width:61px;height:17px;line-height:17px;">1</div>
<div class="b" style="left:11px;top:686px;width:1373px;height:2px;background:#000;"></div>
<div class="b" style="left:11px;top:705px;width:1373px;height:1px;background:#000;"></div>
<div class="b" style="left:11px;top:686px;width:2px;height:20px;background:#000;"></div>
<div class="b" style="left:82px;top:686px;width:1px;height:20px;background:#000;"></div>
<div class="b" style="left:425px;top:686px;width:1px;height:20px;background:#000;"></div>
<div class="b" style="left:485px;top:686px;width:1px;height:20px;background:#000;"></div>
<div class="b" style="left:513px;top:686px;width:1px;height:20px;background:#000;"></div>
<div class="b" style="left:576px;top:686px;width:1px;height:20px;background:#000;"></div>
<div class="b" style="left:638px;top:686px;width:1px;height:20px;background:#000;"></div>
<div class="b" style="left:700px;top:686px;width:1px;height:20px;background:#000;"></div>
<div class="b" style="left:762px;top:686px;width:1px;height:20px;background:#000;"></div>
<div class="b" style="left:824px;top:686px;width:1px;height:20px;background:#000;"></div>
<div class="b" style="left:886px;top:686px;width:1px;height:20px;background:#000;"></div>
<div class="b" style="left:949px;top:686px;width:1px;height:20px;background:#000;"></div>
<div class="b" style="left:1011px;top:686px;width:1px;height:20px;background:#000;"></div>
<div class="b" style="left:1073px;top:686px;width:1px;height:20px;background:#000;"></div>
<div class="b" style="left:1135px;top:686px;width:1px;height:20px;background:#000;"></div>
<div class="b" style="left:1197px;top:686px;width:1px;height:20px;background:#000;"></div>
<div class="b" style="left:1259px;top:686px;width:1px;height:20px;background:#000;"></div>
<div class="b" style="left:1321px;top:686px;width:1px;height:20px;background:#000;"></div>
<div class="b" style="left:1383px;top:686px;width:1px;height:20px;background:#000;"></div>
<div class="t sl" style="left:426px;top:716px;width:87px;height:23px;line-height:23px;">Summe</div>
<div class="b" style="left:514px;top:716px;width:62px;height:23px;background:#92d050;"></div>
<div class="t sv" style="left:514px;top:716px;width:62px;height:23px;line-height:23px;font-size:10.7px;">6</div>
<div class="b" style="left:577px;top:716px;width:61px;height:23px;background:#92d050;"></div>
<div class="t sv" style="left:577px;top:716px;width:61px;height:23px;line-height:23px;font-size:10.7px;">6</div>
<div class="b" style="left:639px;top:716px;width:61px;height:23px;background:#ffc000;"></div>
<div class="t sv" style="left:639px;top:716px;width:61px;height:23px;line-height:23px;font-size:10.7px;">3</div>
<div class="b" style="left:701px;top:716px;width:61px;height:23px;background:#92d050;"></div>
<div class="t sv" style="left:701px;top:716px;width:61px;height:23px;line-height:23px;font-size:10.7px;">7</div>
<div class="b" style="left:763px;top:716px;width:61px;height:23px;background:#92d050;"></div>
<div class="t sv" style="left:763px;top:716px;width:61px;height:23px;line-height:23px;font-size:10.7px;">6</div>
<div class="b" style="left:825px;top:716px;width:61px;height:23px;background:#92d050;"></div>
<div class="t sv" style="left:825px;top:716px;width:61px;height:23px;line-height:23px;font-size:10.7px;">7</div>
<div class="b" style="left:887px;top:716px;width:62px;height:23px;background:#92d050;"></div>
<div class="t sv" style="left:887px;top:716px;width:62px;height:23px;line-height:23px;font-size:10.7px;">6</div>
<div class="b" style="left:950px;top:716px;width:61px;height:23px;background:#c00000;"></div>
<div class="t sv" style="left:950px;top:716px;width:61px;height:23px;line-height:23px;font-size:10.7px;">2</div>
<div class="b" style="left:1012px;top:716px;width:61px;height:23px;background:#92d050;"></div>
<div class="t sv" style="left:1012px;top:716px;width:61px;height:23px;line-height:23px;font-size:10.7px;">5</div>
<div class="b" style="left:1074px;top:716px;width:61px;height:23px;background:#92d050;"></div>
<div class="t sv" style="left:1074px;top:716px;width:61px;height:23px;line-height:23px;font-size:10.7px;">6</div>
<div class="b" style="left:1136px;top:716px;width:61px;height:23px;background:#92d050;"></div>
<div class="t sv" style="left:1136px;top:716px;width:61px;height:23px;line-height:23px;font-size:10.7px;">7</div>
<div class="b" style="left:1198px;top:716px;width:61px;height:23px;background:#ffc000;"></div>
<div class="t sv" style="left:1198px;top:716px;width:61px;height:23px;line-height:23px;font-size:10.7px;">3</div>
<div class="b" style="left:1260px;top:716px;width:61px;height:23px;background:#ffc000;"></div>
<div class="t sv" style="left:1260px;top:716px;width:61px;height:23px;line-height:23px;font-size:10.7px;">3</div>
<div class="b" style="left:1322px;top:716px;width:61px;height:23px;background:#92d050;"></div>
<div class="t sv" style="left:1322px;top:716px;width:61px;height:23px;line-height:23px;font-size:10.7px;">7</div>
<div class="t sl it" style="left:426px;top:740px;width:87px;height:23px;line-height:23px;">Gruppen-Phase</div>
<div class="b" style="left:514px;top:740px;width:62px;height:23px;background:#c00000;"></div>
<div class="t sv" style="left:514px;top:741px;width:62px;height:23px;line-height:23px;font-size:10.7px;">17</div>
<div class="b" style="left:577px;top:740px;width:61px;height:23px;background:#92d050;"></div>
<div class="t sv" style="left:577px;top:741px;width:61px;height:23px;line-height:23px;font-size:10.7px;">25</div>
<div class="b" style="left:639px;top:740px;width:61px;height:23px;background:#92d050;"></div>
<div class="t sv" style="left:639px;top:741px;width:61px;height:23px;line-height:23px;font-size:10.7px;">27</div>
<div class="b" style="left:701px;top:740px;width:61px;height:23px;background:#92d050;"></div>
<div class="t sv" style="left:701px;top:741px;width:61px;height:23px;line-height:23px;font-size:10.7px;">26</div>
<div class="b" style="left:763px;top:740px;width:61px;height:23px;background:#92d050;"></div>
<div class="t sv" style="left:763px;top:741px;width:61px;height:23px;line-height:23px;font-size:10.7px;">24</div>
<div class="b" style="left:825px;top:740px;width:61px;height:23px;background:#92d050;"></div>
<div class="t sv" style="left:825px;top:741px;width:61px;height:23px;line-height:23px;font-size:10.7px;">26</div>
<div class="b" style="left:887px;top:740px;width:62px;height:23px;background:#92d050;"></div>
<div class="t sv" style="left:887px;top:741px;width:62px;height:23px;line-height:23px;font-size:10.7px;">23</div>
<div class="b" style="left:950px;top:740px;width:61px;height:23px;background:#92d050;"></div>
<div class="t sv" style="left:950px;top:741px;width:61px;height:23px;line-height:23px;font-size:10.7px;">26</div>
<div class="b" style="left:1012px;top:740px;width:61px;height:23px;background:#92d050;"></div>
<div class="t sv" style="left:1012px;top:741px;width:61px;height:23px;line-height:23px;font-size:10.7px;">26</div>
<div class="b" style="left:1074px;top:740px;width:61px;height:23px;background:#92d050;"></div>
<div class="t sv" style="left:1074px;top:741px;width:61px;height:23px;line-height:23px;font-size:10.7px;">24</div>
<div class="b" style="left:1136px;top:740px;width:61px;height:23px;background:#ff0000;"></div>
<div class="t sv" style="left:1136px;top:741px;width:61px;height:23px;line-height:23px;font-size:10.7px;">21</div>
<div class="b" style="left:1198px;top:740px;width:61px;height:23px;background:#92d050;"></div>
<div class="t sv" style="left:1198px;top:741px;width:61px;height:23px;line-height:23px;font-size:10.7px;">23</div>
<div class="b" style="left:1260px;top:740px;width:61px;height:23px;background:#ffc000;"></div>
<div class="t sv" style="left:1260px;top:741px;width:61px;height:23px;line-height:23px;font-size:10.7px;">22</div>
<div class="b" style="left:1322px;top:740px;width:61px;height:23px;background:#ff0000;"></div>
<div class="t sv" style="left:1322px;top:741px;width:61px;height:23px;line-height:23px;font-size:10.7px;">21</div>
<div class="t sl it" style="left:426px;top:765px;width:87px;height:28px;line-height:28px;">Gesamtsumme</div>
<div class="b" style="left:514px;top:765px;width:62px;height:28px;background:#c00000;"></div>
<div class="t sv" style="left:514px;top:765px;width:62px;height:28px;line-height:28px;font-size:15px;">23</div>
<div class="b" style="left:577px;top:765px;width:61px;height:28px;background:#92d050;"></div>
<div class="t sv" style="left:577px;top:765px;width:61px;height:28px;line-height:28px;font-size:15px;">31</div>
<div class="b" style="left:639px;top:765px;width:61px;height:28px;background:#92d050;"></div>
<div class="t sv" style="left:639px;top:765px;width:61px;height:28px;line-height:28px;font-size:15px;">30</div>
<div class="b" style="left:701px;top:765px;width:61px;height:28px;background:#92d050;"></div>
<div class="t sv" style="left:701px;top:765px;width:61px;height:28px;line-height:28px;font-size:15px;">33</div>
<div class="b" style="left:763px;top:765px;width:61px;height:28px;background:#92d050;"></div>
<div class="t sv" style="left:763px;top:765px;width:61px;height:28px;line-height:28px;font-size:15px;">30</div>
<div class="b" style="left:825px;top:765px;width:61px;height:28px;background:#92d050;"></div>
<div class="t sv" style="left:825px;top:765px;width:61px;height:28px;line-height:28px;font-size:15px;">33</div>
<div class="b" style="left:887px;top:765px;width:62px;height:28px;background:#92d050;"></div>
<div class="t sv" style="left:887px;top:765px;width:62px;height:28px;line-height:28px;font-size:15px;">29</div>
<div class="b" style="left:950px;top:765px;width:61px;height:28px;background:#92d050;"></div>
<div class="t sv" style="left:950px;top:765px;width:61px;height:28px;line-height:28px;font-size:15px;">28</div>
<div class="b" style="left:1012px;top:765px;width:61px;height:28px;background:#92d050;"></div>
<div class="t sv" style="left:1012px;top:765px;width:61px;height:28px;line-height:28px;font-size:15px;">31</div>
<div class="b" style="left:1074px;top:765px;width:61px;height:28px;background:#92d050;"></div>
<div class="t sv" style="left:1074px;top:765px;width:61px;height:28px;line-height:28px;font-size:15px;">30</div>
<div class="b" style="left:1136px;top:765px;width:61px;height:28px;background:#92d050;"></div>
<div class="t sv" style="left:1136px;top:765px;width:61px;height:28px;line-height:28px;font-size:15px;">28</div>
<div class="b" style="left:1198px;top:765px;width:61px;height:28px;background:#ffc000;"></div>
<div class="t sv" style="left:1198px;top:765px;width:61px;height:28px;line-height:28px;font-size:15px;">26</div>
<div class="b" style="left:1260px;top:765px;width:61px;height:28px;background:#ff0000;"></div>
<div class="t sv" style="left:1260px;top:765px;width:61px;height:28px;line-height:28px;font-size:15px;">25</div>
<div class="b" style="left:1322px;top:765px;width:61px;height:28px;background:#92d050;"></div>
<div class="t sv" style="left:1322px;top:765px;width:61px;height:28px;line-height:28px;font-size:15px;">28</div>
<div class="b" style="left:425px;top:715px;width:959px;height:1px;background:#000;"></div>
<div class="b" style="left:425px;top:739px;width:959px;height:1px;background:#000;"></div>
<div class="b" style="left:425px;top:763px;width:959px;height:2px;background:#000;"></div>
<div class="b" style="left:425px;top:793px;width:959px;height:1px;background:#000;"></div>
<div class="b" style="left:425px;top:715px;width:1px;height:79px;background:#000;"></div>
<div class="b" style="left:513px;top:715px;width:1px;height:79px;background:#000;"></div>
<div class="b" style="left:576px;top:715px;width:1px;height:79px;background:#000;"></div>
<div class="b" style="left:638px;top:715px;width:1px;height:79px;background:#000;"></div>
<div class="b" style="left:700px;top:715px;width:1px;height:79px;background:#000;"></div>
<div class="b" style="left:762px;top:715px;width:1px;height:79px;background:#000;"></div>
<div class="b" style="left:824px;top:715px;width:1px;height:79px;background:#000;"></div>
<div class="b" style="left:886px;top:715px;width:1px;height:79px;background:#000;"></div>
<div class="b" style="left:949px;top:715px;width:1px;height:79px;background:#000;"></div>
<div class="b" style="left:1011px;top:715px;width:1px;height:79px;background:#000;"></div>
<div class="b" style="left:1073px;top:715px;width:1px;height:79px;background:#000;"></div>
<div class="b" style="left:1135px;top:715px;width:1px;height:79px;background:#000;"></div>
<div class="b" style="left:1197px;top:715px;width:1px;height:79px;background:#000;"></div>
<div class="b" style="left:1259px;top:715px;width:1px;height:79px;background:#000;"></div>
<div class="b" style="left:1321px;top:715px;width:1px;height:79px;background:#000;"></div>
<div class="b" style="left:1383px;top:715px;width:1px;height:79px;background:#000;"></div>
<div class="b" style="left:0px;top:0px;width:1398px;height:1px;background:#868686;"></div>
<div class="b" style="left:0px;top:0px;width:1px;height:904px;background:#7c7c7c;"></div>
<div class="b" style="left:1397px;top:0px;width:1px;height:904px;background:#868686;"></div>
<div class="b" style="left:0px;top:903px;width:1398px;height:1px;background:#868686;"></div>
<div class="b" style="left:513px;top:901px;width:883px;height:1px;background:#dcdcdc;"></div>
<div class="b" style="left:576px;top:886px;width:1px;height:16px;background:#dedede;"></div>
<div class="b" style="left:638px;top:886px;width:1px;height:16px;background:#dedede;"></div>
<div class="b" style="left:700px;top:886px;width:1px;height:16px;background:#dedede;"></div>
<div class="b" style="left:762px;top:886px;width:1px;height:16px;background:#dedede;"></div>
<div class="b" style="left:824px;top:886px;width:1px;height:16px;background:#dedede;"></div>
<div class="b" style="left:886px;top:886px;width:1px;height:16px;background:#dedede;"></div>
<div class="b" style="left:949px;top:886px;width:1px;height:16px;background:#dedede;"></div>
<div class="b" style="left:1011px;top:886px;width:1px;height:16px;background:#dedede;"></div>
<div class="b" style="left:1073px;top:886px;width:1px;height:16px;background:#dedede;"></div>
<div class="b" style="left:1135px;top:886px;width:1px;height:16px;background:#dedede;"></div>
<div class="b" style="left:1197px;top:886px;width:1px;height:16px;background:#dedede;"></div>
<div class="b" style="left:1259px;top:886px;width:1px;height:16px;background:#dedede;"></div>
<div class="b" style="left:1321px;top:886px;width:1px;height:16px;background:#dedede;"></div>
<div class="b" style="left:1383px;top:886px;width:1px;height:16px;background:#dedede;"></div>
<div class="b" style="left:1395px;top:886px;width:1px;height:16px;background:#dedede;"></div>
<div class="b" style="left:0px;top:901px;width:83px;height:1px;background:#dcdcdc;"></div>
<div class="b" style="left:12px;top:886px;width:1px;height:16px;background:#dedede;"></div>
<div class="b" style="left:37px;top:886px;width:1px;height:16px;background:#dedede;"></div>
</body></html>
